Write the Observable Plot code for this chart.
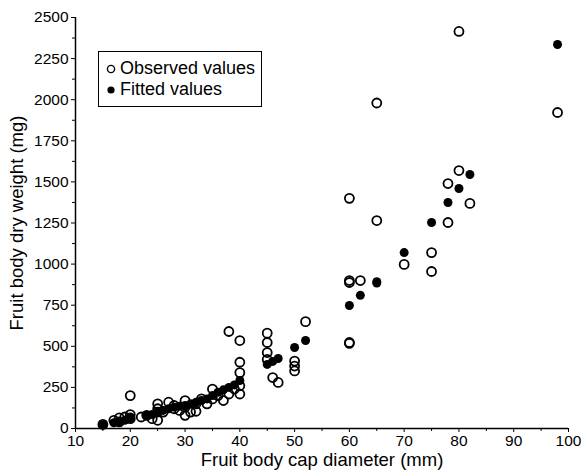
<!DOCTYPE html>
<html>
<head>
<meta charset="utf-8">
<script src="https://cdn.jsdelivr.net/npm/d3@7"></script>
<script src="https://cdn.jsdelivr.net/npm/@observablehq/plot@0.6"></script>
<style>
  html, body { margin: 0; padding: 0; background: #fff; }
  #wrap { position: relative; width: 581px; height: 473px; font-family: "Liberation Sans", Arial, sans-serif; }
  #legend { position: absolute; left: 98px; top: 51px; width: 164px; height: 56px; border: 1px solid #000; background: #fff; font-size: 18px; color: #000; box-sizing: border-box; padding-top: 6px; padding-left: 7px; }
  #legend div { display: flex; align-items: center; height: 21px; }
  #legend svg { margin-right: 4px; }
</style>
</head>
<body>
<div id="wrap"></div>
<script>
// Observed values: cap diameter (mm) and dry weight (mg)
const obsX = [15, 17, 18, 18, 19, 20, 20, 20, 22, 23, 24, 25, 25, 25, 26, 27, 28, 28, 29, 30, 30, 30, 31, 32, 32, 33, 34, 35, 35, 36, 37, 38, 38, 39, 40, 40, 40, 40, 40,
              45, 45, 45, 45, 46, 47, 50, 50, 50, 52, 60, 60, 60, 62, 60, 60, 65, 65, 70, 75, 75, 78, 78, 80, 80, 82, 98];
const obsY = [25, 50, 40, 65, 70, 85, 60, 200, 70, 80, 60, 150, 120, 50, 100, 160, 140, 120, 110, 170, 80, 130, 100, 105, 150, 180, 150, 240, 180, 200, 170, 210, 590, 240, 210, 340, 403, 535, 260,
              580, 523, 462, 420, 310, 280, 410, 380, 350, 650, 1400, 900, 888, 900, 523, 518, 1980, 1265, 998, 1070, 955, 1490, 1253, 1569, 2415, 1369, 1922];
// Fitted values
const fitX = [15, 17, 18, 19, 20, 20, 23, 24, 25, 25, 26, 27, 28, 29, 30, 31, 32, 33, 34, 35, 36, 37, 38, 39, 40,
              45, 46, 47, 50, 52, 60, 62, 65, 65, 70, 75, 78, 80, 82, 98];
const fitY = [22, 35, 40, 50, 60, 70, 80, 85, 95, 105, 110, 120, 130, 135, 140, 150, 160, 170, 180, 200, 220, 235, 250, 265, 292,
              390, 408, 426, 493, 535, 748, 810, 885, 893, 1070, 1253, 1375, 1460, 1545, 2336];
const xTicks = [10, 20, 30, 40, 50, 60, 70, 80, 90, 100];
const xMinor = [15, 25, 35, 45, 55, 65, 75, 85, 95];
const yTicks = [0, 250, 500, 750, 1000, 1250, 1500, 1750, 2000, 2250, 2500];
const yMinor = [125, 375, 625, 875, 1125, 1375, 1625, 1875, 2125, 2375];

const observed = obsX.map((x, i) => ({x, y: obsY[i]}));
const fitted = fitX.map((x, i) => ({x, y: fitY[i]}));

const chart = Plot.plot({
  width: 581,
  height: 473,
  marginLeft: 75,
  marginRight: 13,
  marginTop: 17,
  marginBottom: 45,
  style: {fontFamily: "Liberation Sans, Arial, sans-serif", fontSize: "15.5px", color: "#000", background: "#fff"},
  x: {domain: [10, 100]},
  y: {domain: [0, 2500]},
  marks: [
    Plot.axisX({ticks: xMinor, tickSize: 3, text: null, label: null}),
    Plot.axisX({ticks: xTicks, tickSize: 4, tickPadding: 2, fontSize: 15.5, tickFormat: d => String(d), label: "Fruit body cap diameter (mm)", labelAnchor: "center", labelArrow: "none", labelOffset: 37}),
    Plot.axisY({ticks: yMinor, tickSize: 3, text: null, label: null}),
    Plot.axisY({ticks: yTicks, tickSize: 4, tickPadding: 3, fontSize: 15.5, tickFormat: d => String(d), label: "Fruit body dry weight (mg)", labelAnchor: "center", labelArrow: "none", labelOffset: 66}),
    Plot.ruleY([0], {strokeWidth: 1.5}),
    Plot.ruleX([10], {strokeWidth: 1.5}),
    Plot.dot(observed, {x: "x", y: "y", r: 4.5, stroke: "#000", strokeWidth: 1.8, fill: "none"}),
    Plot.dot(fitted, {x: "x", y: "y", r: 4.5, fill: "#000", stroke: "none"})
  ]
});
chart.querySelectorAll('[aria-label="x-axis label"] text, [aria-label="y-axis label"] text').forEach(t => t.style.fontSize = "18.5px");
const wrap = document.getElementById("wrap");
wrap.appendChild(chart);
const legend = document.createElement("div");
legend.id = "legend";
legend.innerHTML = `<div><svg width="10" height="10"><circle cx="5" cy="5" r="3.6" fill="none" stroke="#000" stroke-width="1.4"/></svg>Observed values</div>
<div><svg width="10" height="10"><circle cx="5" cy="5" r="3.6" fill="#000"/></svg>Fitted values</div>`;
wrap.appendChild(legend);
</script>
</body>
</html>
